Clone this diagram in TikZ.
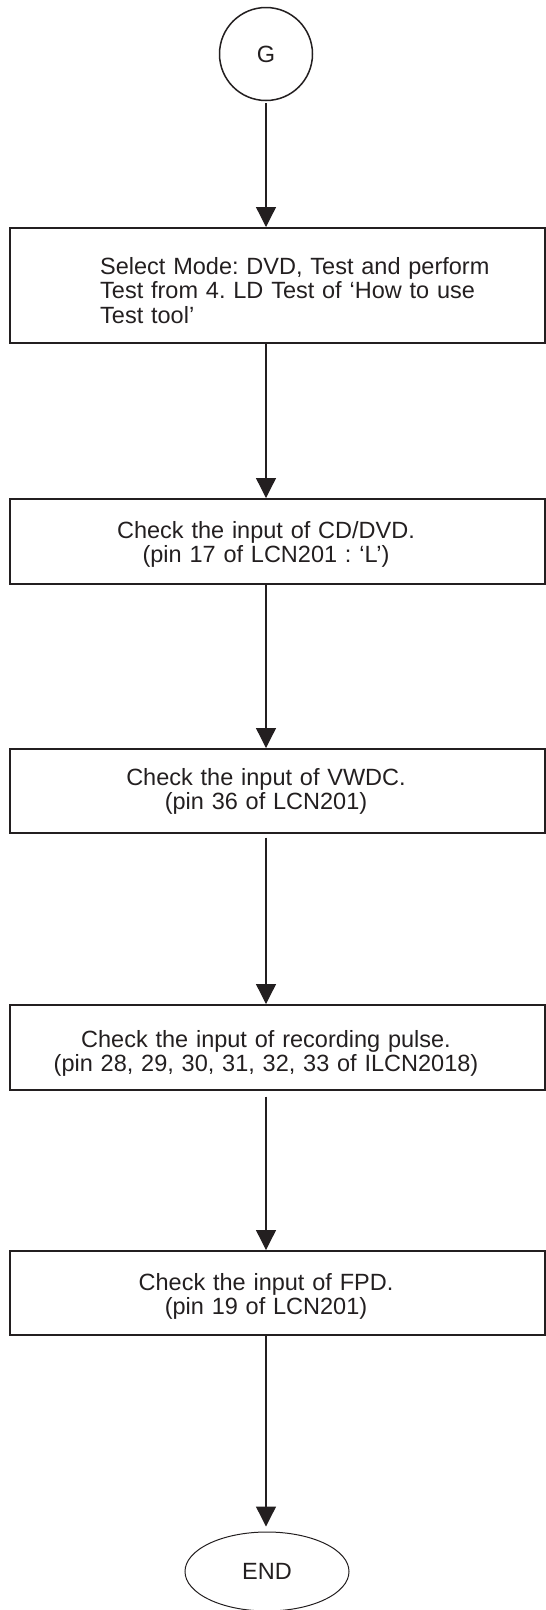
\documentclass[tikz,border=0pt]{standalone}
\usepackage{fontspec}
\setmainfont{Liberation Sans}
\usetikzlibrary{arrows.meta,shapes.geometric}
\definecolor{ink}{HTML}{231F20}
\newcommand\diafs{\fontsize{23.5}{24.5}\selectfont\frenchspacing}
\begin{document}
\begin{tikzpicture}[x=1pt,y=-1pt,
  stepbox/.style={draw=ink, line width=1.5pt, minimum width=535pt, inner sep=0pt, anchor=north west},
  txt/.style={font=\diafs, text=ink, inner sep=0pt, text width=520pt, align=center, anchor=base},
  ltxt/.style={font=\diafs, text=ink, inner sep=0pt, text width=430pt, align=left, anchor=base west},
  conn/.style={draw=ink, line width=1.3pt, -{Triangle[width=20pt,length=20pt]}},
  termc/.style={draw=ink, line width=1.5pt, circle, minimum size=93pt, inner sep=0pt, font=\diafs, text=ink},
  terme/.style={draw=ink, line width=1pt, ellipse, minimum width=164pt, minimum height=79pt, inner sep=0pt, font=\diafs, text=ink}
]
\useasboundingbox (0,0) rectangle (546,1610);

\node[termc] (g) at (266,54) {G};

\node[stepbox, minimum height=115pt] (b1) at (9,227) {};
\node[ltxt] (t1) at (100,274) {Select Mode: DVD, Test and perform\\Test from 4. LD Test of ‘How to use\\Test tool’};

\node[stepbox, minimum height=85pt] (b2) at (9,498) {};
\node[txt] (t2) at (266,538) {Check the input of CD/DVD.\\(pin 17 of LCN201 : ‘L’)};

\node[stepbox, minimum height=84pt] (b3) at (9,748) {};
\node[txt] (t3) at (266,785) {Check the input of VWDC.\\(pin 36 of LCN201)};

\node[stepbox, minimum height=85pt] (b4) at (9,1004) {};
\node[txt] (t4) at (266,1047) {Check the input of recording pulse.\\(pin 28, 29, 30, 31, 32, 33 of ILCN2018)};

\node[stepbox, minimum height=84pt] (b5) at (9,1250) {};
\node[txt] (t5) at (266,1290) {Check the input of FPD.\\(pin 19 of LCN201)};

\node[terme] (e) at (267,1571.5) {END};

\draw[conn, shorten <=2pt] (g.south) -- (g.south |- b1.north);
\draw[conn] (g.south |- b1.south) -- (g.south |- b2.north);
\draw[conn] (g.south |- b2.south) -- (g.south |- b3.north);
\draw[conn, shorten <=4pt] (g.south |- b3.south) -- (g.south |- b4.north);
\draw[conn, shorten <=6pt] (g.south |- b4.south) -- (g.south |- b5.north);
\draw[conn, shorten >=5pt] (g.south |- b5.south) -- (g.south |- e.north);
\end{tikzpicture}
\end{document}
